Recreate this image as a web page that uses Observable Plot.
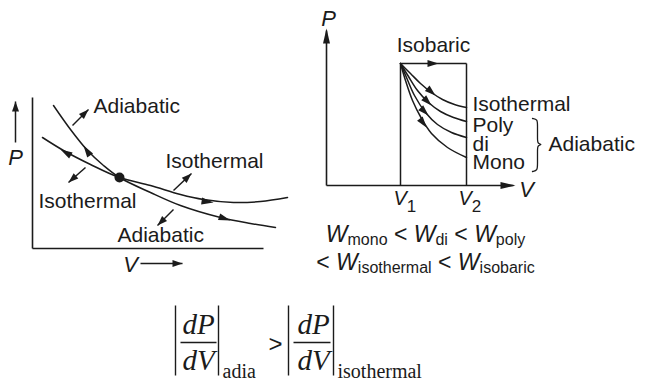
<!DOCTYPE html>
<html><head><meta charset="utf-8">
<script src="https://cdn.jsdelivr.net/npm/d3@7"></script>
<script src="https://cdn.jsdelivr.net/npm/@observablehq/plot@0.6"></script>
<style>html,body{margin:0;padding:0;background:#fff;} svg text{white-space:pre;}</style>
</head><body><div id="chart"></div>
<script>
// ---- Left diagram: P–V curves through a common state ----
const leftIsothermal = [[42,137],[63,150],[90,164],[119,177],[150,185],[180,194],[203,199],[233,202],[260,201],[287,197]];
const leftAdiabatic  = [[53,105],[70,129],[87,150],[103,165],[119,177],[150,192],[180,205],[220,217],[250,223],[275,227]];
const leftState      = [[119,177]];
const leftAxes       = [[32,97,32,248],[32,248,263,248]];
const leftCurveHeads = [[72,156,60,149],[91,157,83,145],[198,200,213,202],[215,215,230,220]];
const leftSmallArrows= [[72,125,88,109],[85,167,68,182],[173,190,191,173],[173,209,157,225],[15,142,15,101],[140,263,182,263]];
const leftLabels     = [["Adiabatic",93,106],["Isothermal",165,161],["Isothermal",38,201],["Adiabatic",117,235]];
const leftAxisLabels = [["P",15,157],["V",130,264]];

// ---- Right diagram: expansions V1 -> V2 ----
const rightIsothermal = [[400,63],[410,73],[420,83],[431,92],[442,99],[454,104],[466,107]];
const rightPoly       = [[400,63],[408,76],[417,90],[428,102],[440,111],[453,117],[466,121]];
const rightDi         = [[400,63],[406,77],[414,95],[425,112],[437,124],[451,132],[466,137]];
const rightMono       = [[400,63],[405,80],[412,100],[421,118],[431,133],[447,147],[466,157]];
const rightBox        = [[400,185,400,63],[400,63,466,63],[466,63,466,185]];
const rightAxes       = [[326,185,326,30],[326,185,513,185]];
const rightAxisHeads  = [[326,60,326,28],[480,185,515,185]];
const rightCurveHeads = [[427,88,435,95],[424,98,431,105],[421,108,428,115],[420,119,426,127],[422,63,438,63]];
const rightBrace      = [[532,118],[537,119],[537,124],[537,139],[537,143],[542,144],[537,145],[537,149],[537,164],[537,170],[532,171]];
const rightLabels     = [["Isothermal",472,103.5],["Poly",472,125],["di",472,144],["Mono",472,162],["Adiabatic",548,144]];
const rightTitle      = [["Isobaric",433,45]];
const rightAxisLabels = [["P",328,18],["V",526,189]];
const rightTicks      = [["V_1",393,198],["V_2",458,198]];
const workLines       = [["W_mono < W_di < W_poly",425,234],["< W_isothermal < W_isobaric",425,262]];

// ---- Slope comparison ----
const absBars   = [[175,305,175,375],[218,305,218,375],[288,305,288,375],[333,305,333,375]];
const fracBars  = [[180,342,216,342],[293,342,330,342]];
const numer     = [["dP",198,324],["dP",313,324]];
const denom     = [["dV",198,360],["dV",313,360]];
const subs      = [["adia",222,371],["isothermal",337,371]];
const relation  = [[">",275,344]];

const ink = "#1b1b1b";
const sans = "Liberation Sans, Arial, Helvetica, sans-serif";
const serif = "Liberation Serif, Times New Roman, serif";

function head(len, half) {
  return {draw(ctx) { ctx.moveTo(0,0); ctx.lineTo(-half, len); ctx.lineTo(half, len); ctx.closePath(); }};
}
const ang = s => Math.atan2(s[2]-s[0], -(s[3]-s[1])) * 180 / Math.PI;
const seg = (data, w) => Plot.link(data, {x1: d=>d[0], y1: d=>d[1], x2: d=>d[2], y2: d=>d[3], stroke: ink, strokeWidth: w});
const heads = (data, len, half) => Plot.dot(data, {x: d=>d[2], y: d=>d[3], rotate: ang, symbol: head(len, half), r: 5, fill: ink, stroke: "none"});
const curve = (data) => Plot.line(data, {x: d=>d[0], y: d=>d[1], curve: "catmull-rom", stroke: ink, strokeWidth: 1.5});
const label = (data, opts) => Plot.text(data, {x: d=>d[1], y: d=>d[2], text: d=>d[0], fill: ink, fontFamily: sans, fontSize: 21, textAnchor: "start", lineAnchor: "middle", ...opts});

const svg = Plot.plot({
  width: 645, height: 390, margin: 0,
  x: {domain: [0,645], range: [0,645], axis: null},
  y: {domain: [0,390], range: [0,390], axis: null},
  style: {background: "#fff", overflow: "visible"},
  marks: [
    // left
    seg(leftAxes, 1.6),
    curve(leftIsothermal),
    curve(leftAdiabatic),
    Plot.dot(leftState, {x: d=>d[0], y: d=>d[1], r: 5, fill: ink}),
    heads(leftCurveHeads, 12, 3.5),
    seg(leftSmallArrows, 1.5),
    heads(leftSmallArrows, 10, 3.5),
    label(leftLabels),
    label(leftAxisLabels, {textAnchor: "middle", fontStyle: "italic", fontSize: 22}),
    // right
    seg(rightAxes, 1.6),
    heads(rightAxisHeads, 15, 3.5),
    seg(rightBox, 1.5),
    curve(rightIsothermal), curve(rightPoly), curve(rightDi), curve(rightMono),
    heads(rightCurveHeads, 11, 3.5),
    Plot.line(rightBrace, {x: d=>d[0], y: d=>d[1], curve: "basis", stroke: ink, strokeWidth: 1.3}),
    label(rightLabels),
    label(rightTitle, {textAnchor: "middle"}),
    label(rightAxisLabels, {textAnchor: "middle", fontStyle: "italic", fontSize: 22}),
    label(rightTicks, {fontSize: 20}),
    label(workLines, {textAnchor: "middle", fontSize: 23}),
    // slope comparison
    seg(absBars, 1.4),
    seg(fracBars, 1.3),
    label(numer, {textAnchor: "middle", fontFamily: serif, fontStyle: "italic", fontSize: 29}),
    label(denom, {textAnchor: "middle", fontFamily: serif, fontStyle: "italic", fontSize: 29}),
    label(subs, {fontFamily: serif, fontSize: 20}),
    label(relation, {textAnchor: "middle", fontFamily: sans, fontSize: 24})
  ]
});

// turn "X_sub" into italic letter + subscript tspans
function richify(el, subSize, shift) {
  const s = el.textContent;
  if (!s.includes("_")) return;
  el.textContent = "";
  const ns = "http://www.w3.org/2000/svg";
  let pending = 0;
  const add = (str, attrs) => {
    const t = document.createElementNS(ns, "tspan");
    for (const k in attrs) t.setAttribute(k, attrs[k]);
    if (pending) { t.setAttribute("dy", (+(attrs.dy||0) - pending)); pending = 0; }
    t.textContent = str; el.appendChild(t);
  };
  const re = /([A-Za-z])_([A-Za-z0-9]+)/g;
  let last = 0, m;
  while ((m = re.exec(s))) {
    if (m.index > last) add(s.slice(last, m.index), {});
    add(m[1], {"font-style": "italic"});
    add(m[2], {"font-size": subSize, "font-style": "normal", dy: shift});
    pending = shift;
    last = re.lastIndex;
  }
  if (last < s.length) add(s.slice(last), {});
}
d3.select(svg).selectAll("text").each(function() {
  const t = this.textContent;
  if (/^V_/.test(t)) richify(this, 17, 7);
  else if (t.includes("_")) richify(this, 16, 3);
});
document.getElementById("chart").appendChild(svg);
</script>
</body></html>
